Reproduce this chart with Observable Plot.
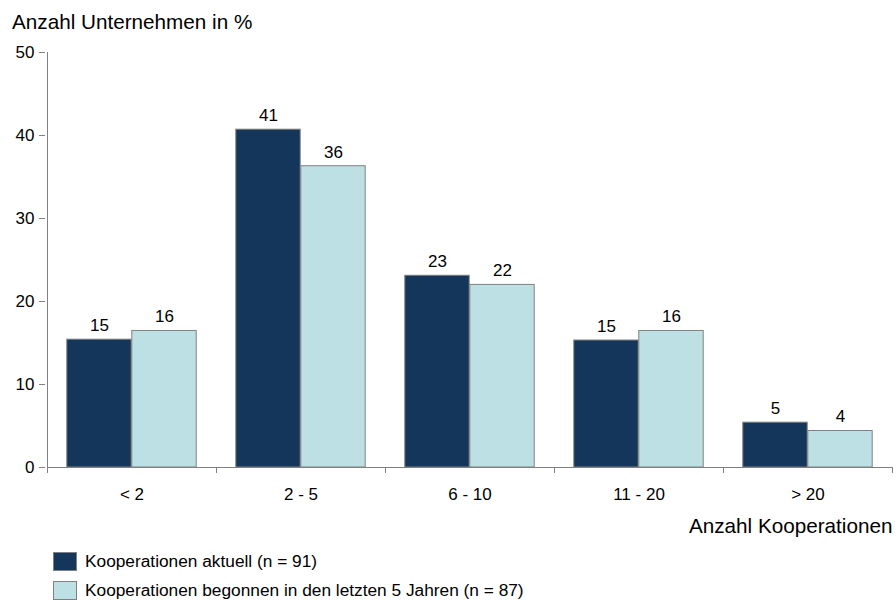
<!DOCTYPE html>
<html><head><meta charset="utf-8">
<script src="https://cdn.jsdelivr.net/npm/d3@7"></script>
<script src="https://cdn.jsdelivr.net/npm/@observablehq/plot@0.6"></script>
<style>
html,body{margin:0;padding:0;overflow:hidden;background:#fff;}
body{font-family:"Liberation Sans",Arial,sans-serif;color:#000;width:896px;}
#title{font-size:20.7px;line-height:24px;padding:10px 0 0 12px;height:24px;}
#chart svg{display:block;}
#legend{padding-left:53px;}
.row{display:flex;align-items:center;height:29px;font-size:17.3px;line-height:29px;white-space:nowrap;}
.sw{width:24px;height:19px;box-sizing:border-box;border:1px solid #808080;margin-right:8px;flex:none;}
</style></head><body>
<div id="title"></div>
<div id="chart"></div>
<div id="legend"></div>
<script>
const categories = ["< 2", "2 - 5", "6 - 10", "11 - 20", "> 20"];
const seriesNames = ["Kooperationen aktuell (n = 91)", "Kooperationen begonnen in den letzten 5 Jahren (n = 87)"];
const valuesAktuell = [15.4, 40.7, 23.1, 15.3, 5.4];
const valuesBegonnen = [16.45, 36.3, 22.0, 16.45, 4.4];
const yTicks = [0, 10, 20, 30, 40, 50];
const yTitle = "Anzahl Unternehmen in %";
const xTitle = "Anzahl Kooperationen";
const colors = ["#14365a", "#bce0e3"];

const dataA = categories.map((c, i) => ({cat: c, value: valuesAktuell[i], series: seriesNames[0]}));
const dataB = categories.map((c, i) => ({cat: c, value: valuesBegonnen[i], series: seriesNames[1]}));
const fmt = d3.format(".0f");

document.getElementById("title").textContent = yTitle;

const W = 896, ML = 45, MR = 3;
const band = (W - ML - MR) / categories.length;
const barW = 65, outer = 19.8;

const chart = Plot.plot({
  width: W,
  height: 513,
  marginTop: 18,
  marginBottom: 80,
  marginLeft: ML,
  marginRight: MR,
  style: {fontFamily: "'Liberation Sans', Arial, sans-serif", fontSize: "17px", background: "white", color: "black", overflow: "visible"},
  x: {domain: categories, padding: 0, axis: null},
  y: {domain: [0, 50], axis: null},
  marks: [
    Plot.barY(dataA, {x: "cat", y: "value", fill: colors[0], stroke: "#808080", strokeWidth: 1,
      insetLeft: outer, insetRight: band - outer - barW}),
    Plot.barY(dataB, {x: "cat", y: "value", fill: colors[1], stroke: "#808080", strokeWidth: 1,
      insetLeft: band - outer - barW, insetRight: outer}),
    Plot.text(dataA, {x: "cat", y: "value", text: d => fmt(d.value), dx: -(band / 2 - outer - barW / 2), dy: -8.5,
      lineAnchor: "bottom", fontSize: 17, fill: "black"}),
    Plot.text(dataB, {x: "cat", y: "value", text: d => fmt(d.value), dx: (band / 2 - outer - barW / 2), dy: -8.5,
      lineAnchor: "bottom", fontSize: 17, fill: "black"}),
    Plot.axisY({ticks: yTicks, tickSize: 6, tickPadding: 5, stroke: "#808080", fill: "black", fontSize: 17, label: null}),
    Plot.axisX({tickSize: 0, tickPadding: 20, fill: "black", fontSize: 17, label: null}),
    Plot.text([xTitle], {frameAnchor: "bottom-right", textAnchor: "end", lineAnchor: "bottom", dx: -1, dy: 65, fontSize: 20.7, fill: "black"})
  ]
});
document.getElementById("chart").appendChild(chart);

// axis lines and boundary ticks from the plot's own scales
const xs = chart.scale("x"), ys = chart.scale("y");
const yZero = ys.apply(0), yTop = ys.apply(50);
const xStart = xs.apply(categories[0]);
const xEnd = xs.apply(categories[categories.length - 1]) + xs.bandwidth;
const g = d3.select(chart).append("g").attr("stroke", "#808080").attr("stroke-width", 1).attr("shape-rendering", "crispEdges");
g.append("line").attr("x1", xStart).attr("x2", xStart).attr("y1", yTop).attr("y2", yZero);
g.append("line").attr("x1", xStart).attr("x2", xEnd).attr("y1", yZero).attr("y2", yZero);
const bounds = categories.map(c => xs.apply(c)).concat([xEnd]);
bounds.forEach(b => g.append("line").attr("x1", b).attr("x2", b).attr("y1", yZero).attr("y2", yZero + 6));

// legend
const legend = d3.select("#legend");
seriesNames.forEach((name, i) => {
  const row = legend.append("div").attr("class", "row");
  row.append("div").attr("class", "sw").style("background", colors[i]);
  row.append("span").text(name);
});
</script>
</body></html>
